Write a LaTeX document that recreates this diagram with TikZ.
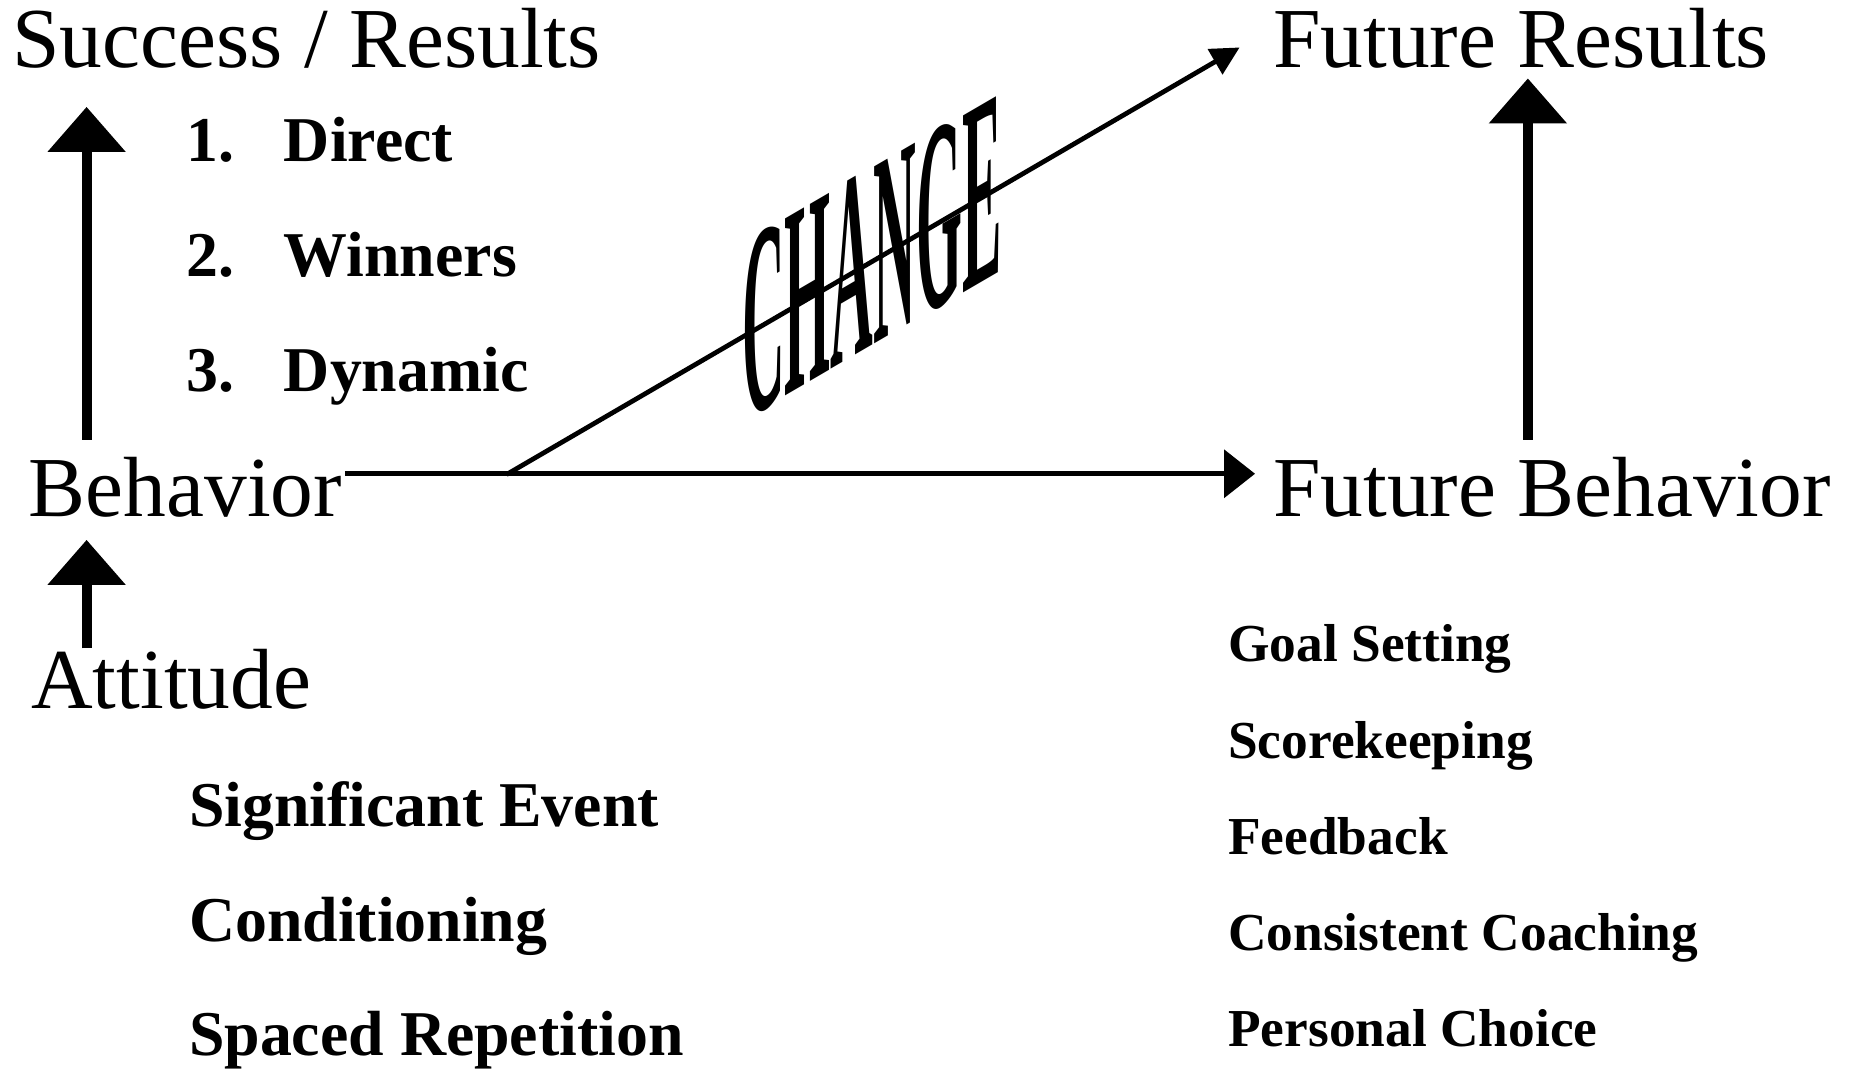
\documentclass[tikz,border=0pt]{standalone}
\usepackage{fontspec}
\setmainfont{Liberation Serif}
\usetikzlibrary{arrows.meta,calc}
\begin{document}
\begin{tikzpicture}[x=0.5pt,y=-0.5pt,
  big/.style={font=\fontsize{36}{40}\selectfont, inner sep=0, anchor=base west},
  lst/.style={font=\fontsize{26.9}{30}\selectfont\bfseries, inner sep=0, anchor=base west},
  rlst/.style={font=\fontsize{22.5}{26}\selectfont\bfseries, inner sep=0, anchor=base west},
  uparr/.style={line width=4.2pt, -{Triangle[width=32pt,length=19pt]}},
  harr/.style={line width=2pt, -{Triangle[width=20pt,length=13pt]}},
  darr/.style={line width=2pt, -{Triangle[width=12pt,length=12pt]}},
]
\useasboundingbox (0,0) rectangle (1568,901);

\node[big] (succ) at (10,57) {Success / Results};
\node[big] (fres) at (1073,57) {Future Results};
\node[big] (beh) at (24,435) {Behavior};
\node[big] (fbeh) at (1073,435) {Future Behavior};
\node[big] (att) at (26,597) {Attitude};

\node[lst] (l1) at (157,136) {\makebox[41pt][l]{1.}Direct};
\node[lst] (l2) at (157,233) {\makebox[41pt][l]{2.}Winners};
\node[lst] (l3) at (157,330) {\makebox[41pt][l]{3.}Dynamic};

\node[lst] (a1) at (159,697) {Significant Event};
\node[lst] (a2) at (159,794) {Conditioning};
\node[lst] (a3) at (159,890) {Spaced Repetition};

\node[rlst] (r1) at (1035,558) {Goal Setting};
\node[rlst] (r2) at (1035,639) {Scorekeeping};
\node[rlst] (r3) at (1035,720) {Feedback};
\node[rlst] (r4) at (1035,801) {Consistent Coaching};
\node[rlst] (r5) at (1035,882) {Personal Choice};

\coordinate (ax) at (73,0);
\coordinate (bx) at (1288,0);
\draw[uparr, shorten <=7pt, shorten >=16pt] (beh.north -| ax) -- (succ.south -| ax);
\draw[uparr, shorten >=9.5pt] (att.north -| ax) -- (beh.south -| ax);
\draw[uparr, shorten <=7pt, shorten >=4pt] (fbeh.north -| bx) -- (fres.south -| bx);
\draw[harr, shorten <=1pt, shorten >=7.5pt] ([yshift=5.5pt]beh.east) -- ([yshift=5.5pt]fbeh.west);

\coordinate (split) at (427,400);
\coordinate (ctip) at (1045,40);
\draw[darr] (split) -- (ctip);

\begin{scope}[shift={(735,217)}]
\node[inner sep=0, transform shape, yslant=0.5825, xscale=0.94, yscale=4.3,
  font=\fontsize{26.5}{30}\selectfont\bfseries] (chg) at (0,0) {CHANGE};
\end{scope}
\end{tikzpicture}
\end{document}
